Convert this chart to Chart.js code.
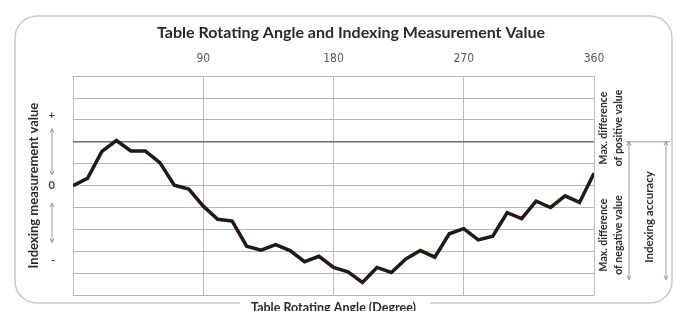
<!DOCTYPE html>
<html>
<head>
<meta charset="utf-8">
<title>Table Rotating Angle and Indexing Measurement Value</title>
<script src="https://cdn.jsdelivr.net/npm/chart.js@4.4.1/dist/chart.umd.min.js"></script>
<style>
  html, body { margin: 0; padding: 0; background: #fff; }
  #wrap { width: 676px; height: 311px; }
</style>
</head>
<body>
<div id="wrap"><canvas id="angleChart" width="676" height="311"></canvas></div>
<script>
const angles = [0, 10, 20, 30, 40, 50, 60, 70, 80, 90, 100, 110, 120, 130, 140, 150, 160, 170, 180,
  190, 200, 210, 220, 230, 240, 250, 260, 270, 280, 290, 300, 310, 320, 330, 340, 350, 360];
const values = [0.0, 0.33, 1.56, 2.06, 1.58, 1.58, 1.05, 0.02, -0.16, -0.94, -1.54, -1.62, -2.77, -2.95,
  -2.7, -2.97, -3.48, -3.23, -3.74, -3.94, -4.43, -3.74, -3.97, -3.35, -2.97, -3.27, -2.2, -1.97,
  -2.48, -2.31, -1.24, -1.51, -0.71, -1.0, -0.47, -0.77, 0.56];

const xTicks = [90, 180, 270, 360];
const yGridValues = [-5, -4, -3, -2, -1, 0, 1, 2, 3, 4, 5];
const yTickValues = [3.2, 0, -3.4];
const yTickLabels = ['+', '0', '-'];
const maxLineValue = 2;

const txtFont = 'Lato, "Open Sans", sans-serif';
const narrowFont = '"Liberation Sans Narrow", "DejaVu Sans Condensed", sans-serif';

const drawRotated = (ctx, text, x, y) => {
  ctx.save();
  ctx.translate(x, y);
  ctx.rotate(-Math.PI / 2);
  ctx.fillText(text, 0, 0);
  ctx.restore();
};

const vArrow = (ctx, x, y1, y2) => {
  ctx.beginPath();
  ctx.moveTo(x, y1);
  ctx.lineTo(x, y2);
  ctx.stroke();
  ctx.beginPath();
  ctx.moveTo(x - 2, y1 + 4); ctx.lineTo(x, y1); ctx.lineTo(x + 2, y1 + 4);
  ctx.moveTo(x - 2, y2 - 4); ctx.lineTo(x, y2); ctx.lineTo(x + 2, y2 - 4);
  ctx.stroke();
};

// frame + notes around the plot
const decorations = {
  id: 'decorations',
  beforeDraw(chart) {
    const ctx = chart.ctx;
    ctx.save();
    ctx.strokeStyle = '#c9c9c9';
    ctx.lineWidth = 1.5;
    const l = 15, t = 16, r = 672, b = 303, rad = 22;
    ctx.beginPath();
    ctx.moveTo(240, b);
    ctx.lineTo(l + rad, b);
    ctx.arcTo(l, b, l, b - rad, rad);
    ctx.lineTo(l, t + rad);
    ctx.arcTo(l, t, l + rad, t, rad);
    ctx.lineTo(r - rad, t);
    ctx.arcTo(r, t, r, t + rad, rad);
    ctx.lineTo(r, b - rad);
    ctx.arcTo(r, b, r - rad, b, rad);
    ctx.lineTo(430, b);
    ctx.stroke();
    ctx.restore();
  },
  afterDraw(chart) {
    const ctx = chart.ctx;
    const y = chart.scales.y;
    const area = chart.chartArea;
    const yMax = y.getPixelForValue(Math.max(...values));
    const yMin = y.getPixelForValue(Math.min(...values));
    const yLine = y.getPixelForValue(maxLineValue);
    ctx.save();

    // left +/0/- arrows
    ctx.strokeStyle = '#9a9a9a';
    ctx.lineWidth = 1;
    const ax = 52;
    vArrow(ctx, ax, y.getPixelForValue(2.6), y.getPixelForValue(0.5));
    vArrow(ctx, ax, y.getPixelForValue(-0.8), y.getPixelForValue(-2.6));

    // right side: max line and brackets
    ctx.beginPath();
    ctx.moveTo(area.right + 32, yLine);
    ctx.lineTo(area.right + 76, yLine);
    ctx.stroke();
    vArrow(ctx, area.right + 35, yMax + 1, yMin - 3);
    vArrow(ctx, area.right + 72, yMax + 1, yMin - 3);

    ctx.fillStyle = '#2e2e2e';
    ctx.font = 'bold 10.5px ' + txtFont;
    ctx.textAlign = 'center';
    ctx.textBaseline = 'middle';
    drawRotated(ctx, 'Max. difference', area.right + 10, 128);
    drawRotated(ctx, 'of positive value', area.right + 25, 128);
    drawRotated(ctx, 'Max. difference', area.right + 10, 235);
    drawRotated(ctx, 'of negative value', area.right + 25, 235);
    ctx.font = 'bold 11.5px ' + txtFont;
    drawRotated(ctx, 'Indexing accuracy', area.right + 55, 217);
    ctx.restore();
  },
};

const ctx = document.getElementById('angleChart').getContext('2d');
const chart = new Chart(ctx, {
  type: 'line',
  data: {
    datasets: [
      {
        data: angles.map((a, i) => ({ x: a, y: values[i] })),
        borderColor: '#231816',
        borderWidth: 3.5,
        pointRadius: 0,
        tension: 0,
        fill: false,
      },
    ],
  },
  options: {
    responsive: false,
    animation: false,
    devicePixelRatio: 1,
    layout: { padding: { left: 26, right: 0, top: 0, bottom: 0 } },
    plugins: {
      legend: { display: false },
      tooltip: { enabled: false },
      title: {
        display: true,
        text: 'Table Rotating Angle and Indexing Measurement Value',
        color: '#2b2b2b',
        font: { family: txtFont, size: 16, weight: 'bold' },
        padding: { top: 23, bottom: 8 },
      },
    },
    scales: {
      x: {
        type: 'linear',
        position: 'top',
        min: 0,
        max: 360,
        afterBuildTicks: (axis) => {
          axis.ticks = [0].concat(xTicks).map((v) => ({ value: v }));
        },
        afterFit: (axis) => { axis.height = 26; },
        ticks: {
          color: '#5a5a5a',
          font: { family: narrowFont, size: 12 },
          padding: 10,
          maxRotation: 0,
          autoSkip: false,
          callback: (v) => (xTicks.includes(v) ? String(v) : ''),
        },
        grid: { color: '#bdbdbd', lineWidth: 1, drawTicks: false },
        border: { display: false },
      },
      xb: {
        type: 'linear',
        position: 'bottom',
        min: 0,
        max: 360,
        afterFit: (axis) => { axis.height = 16; },
        ticks: { display: false },
        grid: { display: false },
        border: { display: false },
        title: {
          display: true,
          text: 'Table Rotating Angle (Degree)',
          color: '#2b2b2b',
          font: { family: txtFont, size: 12.5, weight: 'bold' },
          padding: { top: 0, bottom: -4 },
        },
      },
      y: {
        min: -5,
        max: 5,
        afterBuildTicks: (axis) => {
          axis.ticks = yGridValues.concat(yTickValues.filter((v) => !yGridValues.includes(v)))
            .map((v) => ({ value: v }));
        },
        afterFit: (axis) => {
          axis.width = 47;
          // label padding should not shrink the plot vertically
          axis.paddingTop = 0;
          axis.paddingBottom = 0;
        },
        ticks: {
          color: '#444',
          font: { family: txtFont, size: 11, weight: 'bold' },
          padding: 18,
          autoSkip: false,
          callback: (v) => {
            const i = yTickValues.indexOf(v);
            return i >= 0 ? yTickLabels[i] : '';
          },
        },
        grid: {
          drawTicks: false,
          color: (c) => {
            if (!c.tick || !Number.isInteger(c.tick.value)) return 'rgba(0,0,0,0)';
            return c.tick.value === maxLineValue ? '#6f6f6f' : '#b5b5b5';
          },
          lineWidth: (c) => (c.tick && c.tick.value === maxLineValue ? 1.6 : 1),
        },
        border: { display: false },
        title: {
          display: true,
          text: 'Indexing measurement value',
          color: '#2b2b2b',
          font: { family: txtFont, size: 13, weight: 'bold' },
          padding: 0,
        },
      },
      yr: {
        position: 'right',
        afterFit: (axis) => {
          axis.width = 82;
          axis.paddingTop = 0;
          axis.paddingBottom = 0;
        },
        ticks: { display: false },
        grid: { display: false },
        border: { display: false },
      },
    },
  },
  plugins: [decorations],
});
</script>
</body>
</html>
